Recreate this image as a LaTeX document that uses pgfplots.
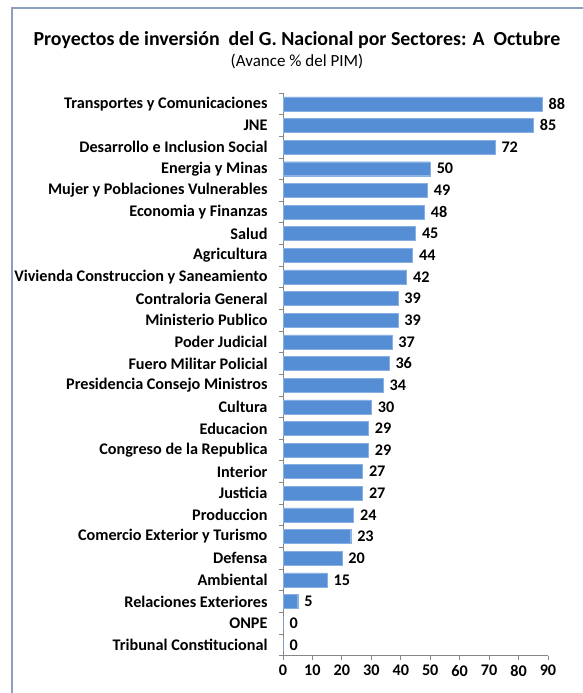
\documentclass[border=0pt]{standalone}
\usepackage{fontspec}
\setmainfont{Carlito}
\usepackage{pgfplots}
\pgfplotsset{compat=1.18}
\definecolor{barblue}{RGB}{85,142,213}
\definecolor{framec}{RGB}{140,160,190}
\definecolor{axisgray}{RGB}{134,134,134}
\begin{document}
\begin{tikzpicture}[x=1pt,y=1pt]
\useasboundingbox (0,0) rectangle (582,693);
\draw[framec, line width=1.5pt] (12,-5) -- (12,685) -- (590,685);
\node[font=\fontsize{19.9}{22}\selectfont\bfseries] at (297,653) {Proyectos de inversión\ \ del G. Nacional por Sectores: A\ \ Octubre};
\node[font=\fontsize{17}{19}\selectfont] at (297,632) {(Avance \% del PIM)};
\begin{axis}[
  at={(283pt,48.22pt)}, anchor=origin,
  scale only axis, width=265pt, height=562.6pt,
  xbar, bar width=14pt,
  xmin=0, xmax=90, ymin=-0.5, ymax=25.5,
  xtick={0,10,...,90},
  ytick={0,...,25},
  minor ytick={-0.5,0.5,...,25.5},
  yticklabels={Tribunal Constitucional, ONPE, Relaciones Exteriores, Ambiental, Defensa, Comercio Exterior y Turismo, Produccion, Justicia, Interior, Congreso de la Republica, Educacion, Cultura, Presidencia Consejo Ministros, Fuero Militar Policial, Poder Judicial, Ministerio Publico, Contraloria General, Vivienda Construccion y Saneamiento, Agricultura, Salud, Economia y Finanzas, Mujer y Poblaciones Vulnerables, Energia y Minas, Desarrollo e Inclusion Social, JNE, Transportes y Comunicaciones},
  axis x line*=bottom, axis y line*=left,
  axis line style={axisgray, line width=0.8pt},
  tick align=outside,
  major tick length=4pt, minor tick length=4pt,
  major y tick style={draw=none},
  minor y tick style={axisgray, line width=0.8pt},
  x tick style={axisgray, line width=0.8pt},
  /pgf/number format/assume math mode=true,
  tick label style={font=\fontsize{16.2}{18}\selectfont\bfseries},
  yticklabel style={xshift=-8pt},
  xticklabel style={yshift=-2pt},
  nodes near coords,
  nodes near coords style={font=\fontsize{16.2}{18}\selectfont\bfseries, anchor=west, xshift=3pt},
  clip=false,
]
\addplot[fill=barblue, draw=barblue!70!white] coordinates {
(0,0) (0,1) (5,2) (15,3) (20,4) (23,5) (24,6) (27,7) (27,8) (29,9) (29,10) (30,11) (34,12) (36,13) (37,14) (39,15) (39,16) (42,17) (44,18) (45,19) (48,20) (49,21) (50,22) (72,23) (85,24) (88,25)
};
\end{axis}
\end{tikzpicture}
\end{document}
